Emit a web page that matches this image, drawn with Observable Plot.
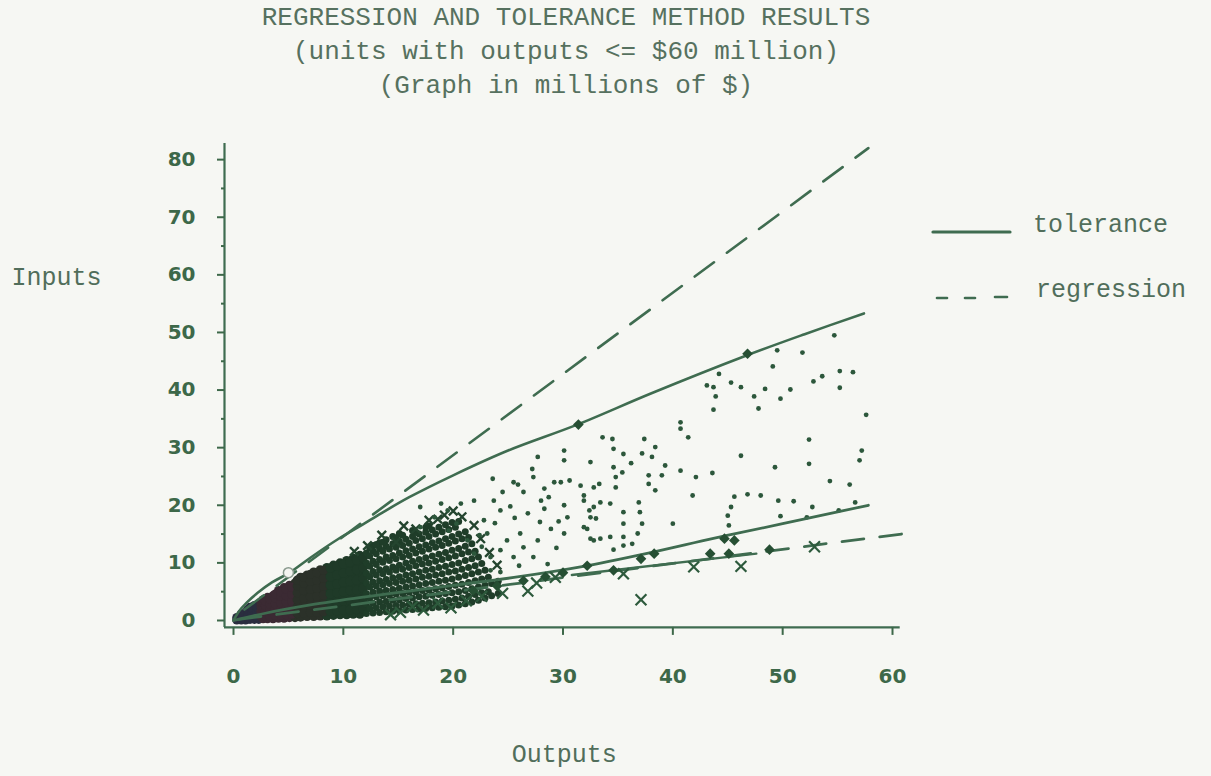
<!DOCTYPE html>
<html><head><meta charset="utf-8">
<script src="https://cdn.jsdelivr.net/npm/d3@7"></script>
<script src="https://cdn.jsdelivr.net/npm/@observablehq/plot@0.6"></script>
<style>
html,body{margin:0;padding:0;background:#f6f7f3;}
body{width:1211px;height:776px;overflow:hidden;position:relative;}
#title{position:absolute;left:0;top:1px;width:1132px;text-align:center;font-family:"Liberation Mono",monospace;font-size:26px;line-height:34px;color:#56715f;}
#chart{position:absolute;left:0;top:110px;}
.leg{position:absolute;font-family:"Liberation Mono",monospace;font-size:25px;color:#516e5b;line-height:30px;}
.legsvg{position:absolute;}
</style></head>
<body>
<div id="title">REGRESSION AND TOLERANCE METHOD RESULTS<br>(units with outputs &lt;= $60 million)<br>(Graph in millions of $)</div>
<div id="chart"></div>
<svg class="legsvg" style="left:925px;top:222px" width="95" height="90">
  <line x1="8" y1="10" x2="85" y2="10" stroke="#3f6c50" stroke-width="3.2" stroke-linecap="round"/>
  <line x1="12" y1="76" x2="22" y2="76" stroke="#3f6c50" stroke-width="2.6" stroke-linecap="round"/>
  <line x1="40" y1="76" x2="50" y2="76" stroke="#3f6c50" stroke-width="2.6" stroke-linecap="round"/>
  <line x1="70" y1="75" x2="82" y2="75" stroke="#3f6c50" stroke-width="2.6" stroke-linecap="round"/>
</svg>
<div class="leg" style="left:1033px;top:211px">tolerance</div>
<div class="leg" style="left:1036px;top:276px">regression</div>
<script>
// ---- data ----
const xDomain = [-0.82, 60.7];
const yDomain = [-1.2, 82.8];
const xTicks = [0, 10, 20, 30, 40, 50, 60];
const yTicks = [0, 10, 20, 30, 40, 50, 60, 70, 80];
const yMinorTicks = [5, 15, 25, 35, 45, 55, 65, 75];

const upperTolX = [0, 0.5, 1.2, 2.2, 3.5, 5.1, 7, 9.5, 11.9, 13.1, 16, 20, 25, 31.3, 38, 46.7, 52, 57.4];
const upperTolY = [0, 1.6, 3.1, 4.8, 6.6, 8.3, 10.9, 14.1, 16.8, 18.2, 21.4, 25.2, 29.5, 34.0, 39.4, 46.0, 49.7, 53.3];
const lowerTolX = [0, 3, 7, 12, 16, 20, 26, 31.6, 38, 43.8, 50, 57.8];
const lowerTolY = [0, 1.3, 2.7, 4.1, 5.1, 6.1, 7.6, 9.3, 11.8, 14.3, 16.8, 20.0];
const upperRegX = [1.0, 57.8];
const upperRegY = [1.9, 82.0];
const lowerRegX = [0.5, 62.0];
const lowerRegY = [0.2, 15.3];
const shortSegX = [30.8, 47.6];
const shortSegY = [7.9, 11.6];

// dense cloud of small units: [output, [inputs...]]
const cloudColumns = [
  [0.3,[0.1,0.5]],[0.7,[0.1,0.6,1.1]],[1.1,[0.1,0.7,1.4]],[1.5,[0.2,0.9,1.7,2.3]],
  [1.9,[0.2,1.0,1.8,2.6]],[2.3,[0.2,1.0,1.9,2.9]],[2.7,[0.3,1.2,2.1,3.0,3.6]],
  [3.1,[0.3,1.2,2.2,3.2,4.0]],[3.6,[0.3,1.3,2.3,3.3,4.3]],[4.1,[0.4,1.4,2.5,3.6,4.7,5.2]],
  [4.6,[0.4,1.5,2.6,3.7,4.8,5.7]],[5.1,[0.5,1.6,2.8,3.9,5.0,6.1]],[5.6,[0.5,1.7,2.9,4.1,5.3,6.5]],
  [6.1,[0.6,1.8,3.0,4.3,5.6,6.9,7.5]],[6.7,[0.7,1.9,3.2,4.5,5.8,7.1,7.9]],
  [7.3,[0.7,2.0,3.4,4.7,6.1,7.4,8.4]],[7.9,[0.8,2.1,3.5,4.9,6.3,7.7,8.8]],
  [8.5,[0.8,2.2,3.7,5.2,6.6,8.0,9.2]],[9.1,[0.9,2.4,3.9,5.4,6.9,8.4,9.6]],
  [9.7,[1.0,2.5,4.0,5.6,7.1,8.7,10.0]],[10.3,[1.0,2.6,4.2,5.8,7.4,9.0,10.4]],
  [10.9,[1.1,2.7,4.4,6.0,7.7,9.3,10.8]],[11.5,[1.1,2.8,4.5,6.2,7.9,9.6,11.3]],
  [12.1,[1.2,2.9,4.7,6.5,8.2,10.0,11.7]],[12.7,[1.3,3.0,4.9,6.7,8.5,10.3,12.1,13.0]],
  [13.3,[1.4,3.2,5.1,6.9,8.8,10.6,12.5,13.5]],[13.9,[1.5,3.3,5.2,7.1,9.0,11.0,12.9,14.0]],
  [14.5,[1.6,3.5,5.4,7.4,9.3,11.3,13.3,14.6]],[15.1,[1.7,3.6,5.6,7.6,9.6,11.7,13.7,15.1]],
  [15.7,[1.8,3.8,5.8,7.9,10.0,12.1,14.1]],[16.3,[1.9,3.9,6.0,8.1,10.3,12.4,14.6,15.6]],
  [16.9,[2.0,4.1,6.2,8.4,10.6,12.8,15.0]],[17.5,[2.1,4.2,6.4,8.7,10.9,13.1,15.3,16.2]],
  [18.1,[2.2,4.4,6.6,8.9,11.2,13.5,15.7]],[18.7,[2.3,4.5,6.8,9.2,11.5,13.8,16.2]],
  [19.3,[2.4,4.7,7.0,9.4,11.8,14.2,16.6]],[19.9,[2.5,4.8,7.2,9.7,12.2,14.6,17.0]],
  [20.5,[2.7,5.0,7.5,10.0,12.5,15.0,17.2]],[21.1,[2.9,5.2,7.8,10.4,12.9,15.4]],
  [21.7,[3.2,5.5,8.1,10.7,13.3]],[22.3,[3.5,5.8,8.4,11.0]],[22.9,[3.9,6.1,8.7]],
  [23.5,[4.3,6.4]],[24.1,[4.7,6.8]]
];
// second, staggered layer of the same cloud
const cloudColumns2 = [
  [0.9,[0.4,0.9]],[1.3,[0.5,1.2,1.9]],[1.7,[0.6,1.4,2.1]],[2.1,[0.6,1.5,2.4]],[2.5,[0.7,1.6,2.5,3.2]],
  [2.9,[0.8,1.7,2.6,3.4]],[3.3,[0.8,1.8,2.8,3.7]],[3.8,[0.9,1.9,2.9,3.9,4.6]],[4.3,[0.9,2.0,3.1,4.2,5.0]],
  [4.8,[1.0,2.1,3.2,4.3,5.4]],[5.3,[1.1,2.2,3.4,4.6,5.8]],[5.8,[1.2,2.4,3.6,4.8,6.0,7.0]],
  [6.4,[1.3,2.6,3.9,5.2,6.5,7.5]],[7.0,[1.4,2.7,4.1,5.4,6.8,8.0]],[7.6,[1.4,2.8,4.2,5.6,7.0,8.3]],
  [8.2,[1.5,2.9,4.4,5.9,7.3,8.7]],[8.8,[1.6,3.1,4.6,6.1,7.6,9.1]],[9.4,[1.7,3.2,4.8,6.3,7.9,9.4]],
  [10.0,[1.8,3.4,5.0,6.6,8.2,9.8]],[10.6,[1.8,3.5,5.2,6.8,8.5,10.1]],[11.2,[1.9,3.6,5.3,7.0,8.8,10.5]],
  [11.8,[2.0,3.8,5.6,7.3,9.1,10.9]],[12.4,[2.1,3.9,5.8,7.6,9.4,11.2,12.6]],[13.0,[2.2,4.1,6.0,7.9,9.7,11.6,13.2]],
  [13.6,[2.4,4.3,6.2,8.1,10.1,12.0,13.6]],[14.2,[2.5,4.4,6.4,8.4,10.4,12.4]],[14.8,[2.6,4.6,6.6,8.7,10.7,12.7,14.3]],
  [15.4,[2.7,4.7,6.8,8.9,11.0,13.0,14.8]],[16.0,[2.8,4.9,7.0,9.2,11.3,13.4]],[16.6,[2.9,5.0,7.2,9.5,11.7,13.9,15.3]],
  [17.2,[3.0,5.2,7.5,9.8,12.0,14.2]],[17.8,[3.1,5.3,7.7,10.0,12.4,14.6,16.4]],[18.4,[3.2,5.5,7.9,10.3,12.7,15.0]],
  [19.0,[3.4,5.7,8.1,10.6,13.0,15.4]],[19.6,[3.5,5.9,8.4,10.9,13.4,15.8]],[20.2,[3.7,6.1,8.6,11.2,13.8,16.2]],
  [20.8,[3.9,6.3,8.9,11.6,14.2]],[21.4,[4.2,6.6,9.2,11.9,14.4]],[22.0,[4.5,6.9,9.5,12.0]],[22.6,[4.8,7.2,9.9]],
  [23.2,[5.0,7.5]]
];
// scattered edge of the cloud [output, input]
const cloudEdge = [
  [13.5,14.8],[15.5,16.4],[17.8,17.4],[19.2,18.3],[20.8,18.0],[16.6,15.9],[14.8,13.6],[21.9,16.5],
  [12.2,13.0],[18.6,17.6],[22.5,14.2],[23.3,11.8],[24.0,9.6],[11.0,12.0],[20.0,19.0]
];

// scattered larger units [output, input]
const sparseUnits = [
  [54.7,49.5],[51.8,46.5],[49.5,46.9],[49.1,44.1],[44.2,42.8],[43.1,40.8],[43.7,40.5],[45.3,41.3],
  [46.2,40.5],[43.9,38.9],[43.7,36.6],[47.4,38.9],[48.4,40.2],[47.8,36.8],[49.8,38.5],[50.7,40.1],
  [52.8,41.5],[53.6,42.4],[55.2,43.3],[56.4,43.1],[55.2,40.4],[57.6,35.7],[40.7,34.4],[40.7,33.3],
  [41.4,31.8],[33.6,31.8],[34.5,31.5],[37.4,31.5],[38.4,30.1],[34.6,29.8],[35.5,28.9],[37.2,29.0],
  [38.1,28.4],[32.5,27.5],[36.2,27.3],[39.3,26.9],[40.7,26.0],[34.6,26.6],[35.4,25.7],[34.8,24.9],
  [34.8,23.1],[37.8,25.2],[39.0,25.2],[42.1,24.9],[43.6,25.6],[46.2,28.6],[49.3,26.6],[52.4,31.4],
  [52.4,27.2],[54.3,24.2],[56.1,23.6],[57.2,29.5],[57.0,27.8],[56.6,20.5],[32.8,23.1],[33.3,23.7],
  [37.8,23.7],[38.4,22.6],[41.8,21.7],[45.6,21.5],[46.8,21.9],[48.0,21.7],[49.6,20.8],[51.0,20.7],
  [52.7,19.7],[55.1,19.1],[45.3,19.7],[45.0,18.2],[45.1,16.5],[49.8,18.1],[52.2,17.9],[31.9,21.7],
  [33.4,20.5],[34.3,20.3],[36.9,20.5],[37.0,18.8],[32.4,19.1],[33.0,17.7],[35.5,18.8],[35.5,16.8],
  [36.8,15.1],[37.2,16.8],[40.0,16.8],[32.2,15.9],[32.5,14.2],[33.4,14.2],[34.3,14.5],[35.5,14.5],
  [36.3,13.3],[34.6,12.3],[35.5,13.0],
  [30.1,29.5],[30.1,27.8],[27.7,28.4],[27.2,26.3],[27.3,24.9],[23.6,24.6],[25.5,24.0],[25.9,23.6],
  [29.2,24.0],[29.8,24.0],[30.6,24.3],[28.3,22.9],[31.6,23.4],[24.5,22.3],[26.4,22.3],[28.0,20.8],
  [28.7,21.4],[30.1,20.0],[31.9,20.8],[32.8,19.7],[30.4,17.9],[32.5,17.9],[31.9,16.2],[32.8,13.9],
  [30.1,15.1],[28.3,19.4],[28.9,15.9],[27.7,13.9],[26.1,15.1],[26.4,12.7],[24.3,19.1],[23.7,20.8],
  [22.8,17.4],[21.9,20.8],[20.7,20.3],[19.5,19.1],[18.9,20.3],[17.0,19.7],[17.0,16.2],[24.9,13.9],
  [24.3,12.2],[25.5,11.0],[23.4,11.0],[21.9,11.6],[21.3,13.9],[23.1,15.1],[27.3,11.0],[28.6,9.8],
  [23.4,8.7],[24.3,8.4],[25.6,17.8],[26.8,18.6],[29.6,17.2],[22.4,14.8],[20.3,16.8],[19.6,15.6],
  [18.3,17.9],[23.8,16.9],[25.2,19.8],[27.9,17.1],[29.4,12.6],[26.0,9.5],[22.6,12.8]
];

const crossUnits = [
  [14.3,1.0],[15.2,1.4],[16.3,2.4],[17.3,1.8],[18.6,3.0],[19.8,2.2],[21.2,3.4],[22.6,4.2],
  [24.5,4.7],[26.8,5.1],[27.6,6.5],[29.3,7.5],[35.5,8.1],[37.1,3.6],[41.9,9.3],[46.2,9.4],[52.9,12.8]
];
const diamondUnits = [
  [21.8,5.2],[24.0,6.0],[26.4,6.9],[28.4,7.6],[30.0,8.3],[32.2,9.5],[34.6,8.7],[37.1,10.7],
  [38.3,11.6],[43.4,11.6],[44.7,14.2],[45.6,13.9],[45.1,11.6],[48.8,12.3],[31.4,34.0],[46.8,46.3]
];
const openCircle = [[5.0, 8.3]];

// ---- build ----
const ink = "#3f6c50";
const pts = (xs, ys) => xs.map((x, i) => ({x, y: ys[i]}));
const cols = c => c.flatMap(([x, ys]) => ys.map(y => ({x, y})));
const cloud = cols(cloudColumns).concat(cols(cloudColumns2));
const cloudInner = cloud.filter(d => d.x < 12);
const cloudOuter = cloud.filter(d => d.x >= 12);
const asObj = a => a.map(([x, y]) => ({x, y}));
const cloudFill = d => d.x < 2.4 ? "#2a2e3f" : d.x < 5.6 ? "#3b2a33" : d.x < 8.5 ? "#2b3129" : "#1f3a28";

const chart = Plot.plot({
  width: 1211, height: 666,
  marginLeft: 224, marginRight: 311.3, marginTop: 33, marginBottom: 149.1,
  x: {domain: xDomain},
  y: {domain: yDomain},
  style: {background: "transparent", color: "#3d6849", fontFamily: "DejaVu Sans", fontSize: "20px", fontWeight: "bold"},
  marks: [
    Plot.dot(cloudInner, {x: "x", y: "y", r: 4.6, stroke: "none", fill: cloudFill}),
    Plot.dot(cloudOuter, {x: "x", y: "y", r: 3.5, stroke: "none", fill: "#1f3d29"}),
    Plot.dot(asObj(cloudEdge), {x: "x", y: "y", symbol: "times", r: 4, stroke: "#24452f", strokeWidth: 2.4}),
    Plot.dot(asObj(sparseUnits), {x: "x", y: "y", r: 2.4, fill: "#2c573b"}),
    Plot.line(pts(upperTolX, upperTolY), {x: "x", y: "y", stroke: ink, strokeWidth: 2.6, curve: "catmull-rom"}),
    Plot.line(pts(lowerTolX, lowerTolY), {x: "x", y: "y", stroke: ink, strokeWidth: 2.8, curve: "catmull-rom"}),
    Plot.line(pts(shortSegX, shortSegY), {x: "x", y: "y", stroke: ink, strokeWidth: 2.4}),
    Plot.line(pts(upperRegX, upperRegY), {x: "x", y: "y", stroke: ink, strokeWidth: 2.6, strokeDasharray: "24,16", strokeLinecap: "round"}),
    Plot.line(pts(lowerRegX, lowerRegY), {x: "x", y: "y", stroke: ink, strokeWidth: 2.8, strokeDasharray: "22,16", strokeLinecap: "round"}),
    Plot.dot(asObj(crossUnits), {x: "x", y: "y", symbol: "times", r: 5, stroke: "#2d5a3c", strokeWidth: 2.2}),
    Plot.dot(asObj(diamondUnits), {x: "x", y: "y", symbol: "diamond2", r: 4.8, fill: "#264f33"}),
    Plot.dot(asObj(openCircle), {x: "x", y: "y", r: 5, fill: "#f3f4f0", stroke: "#8a9a8e", strokeWidth: 1.5}),
    Plot.ruleX([xDomain[0]], {stroke: ink, strokeWidth: 2.2}),
    Plot.ruleY([yDomain[0]], {stroke: ink, strokeWidth: 2.2}),
    Plot.axisX(xTicks, {tickSize: 8, tickPadding: 33, strokeWidth: 2, label: null}),
    Plot.axisY(yTicks, {tickSize: 7, tickPadding: 22, strokeWidth: 2, label: null}),
    Plot.axisY(yMinorTicks, {tickSize: 3, strokeWidth: 2, tickFormat: () => "", label: null}),
    Plot.text(["Inputs"], {frameAnchor: "top-left", dx: -213, dy: 124, textAnchor: "start",
      fontFamily: "Liberation Mono", fontSize: 25, fontWeight: "normal", fill: "#516e5b"}),
    Plot.text(["Outputs"], {frameAnchor: "bottom", dx: 2, dy: 135,
      fontFamily: "Liberation Mono", fontSize: 25, fontWeight: "normal", fill: "#516e5b"})
  ]
});
document.getElementById("chart").appendChild(chart);
</script>
</body></html>
